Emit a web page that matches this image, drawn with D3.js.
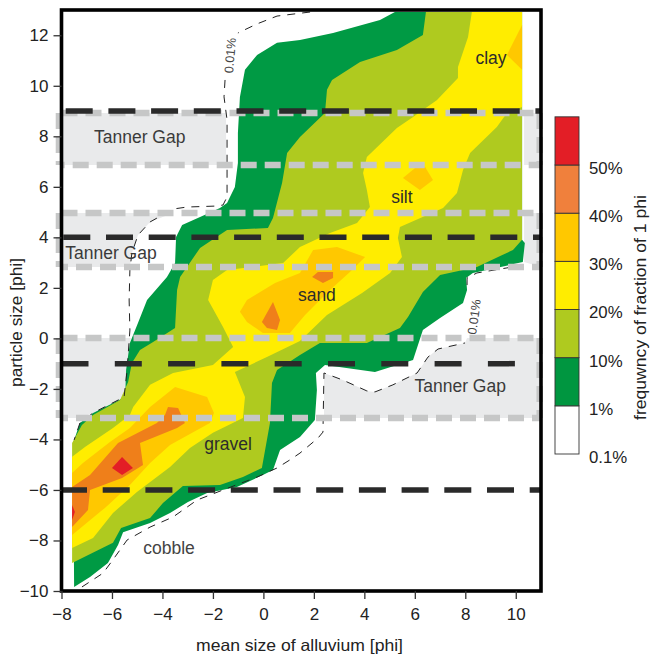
<!DOCTYPE html>
<html><head><meta charset="utf-8">
<style>html,body{margin:0;padding:0;background:#fff}svg{display:block}text{font-family:"Liberation Sans",Arial,sans-serif}</style>
<script src="https://cdn.jsdelivr.net/npm/d3@7"></script>
</head><body><svg id="c" width="652" height="657"></svg>
<script>
// contour boundaries in data units [mean size phi, particle size phi]
const band1 = [[5.21,12.92],[4.62,12.6],[2.76,12.09],[1.45,11.81],[0.54,11.7],[-0.25,11.22],[-0.73,10.63],[-0.93,9.56],[-1.01,8.13],[-1.01,6.94],[-1.13,5.99],[-1.44,5.36],[-1.72,5.16],[-2.31,4.89],[-3.22,4.49],[-3.46,4.01],[-3.5,2.98],[-3.82,2.43],[-4.61,1.52],[-4.97,0.61],[-5.29,-0.18],[-5.44,-1.25],[-5.48,-2.32],[-6.75,-2.95],[-7.27,-3.35],[-7.54,-4.14],[-7.5,-9.84],[-6.87,-9.45],[-6.16,-8.89],[-5.76,-8.18],[-5.56,-7.67],[-4.49,-7.31],[-3.7,-6.91],[-2.99,-6.48],[-2.23,-6.12],[-1.05,-5.88],[-0.02,-5.41],[0.38,-5.21],[0.66,-4.42],[1.45,-3.9],[2.04,-3.23],[2.12,-2.04],[2.08,-1.37],[2.44,-1.05],[4.42,-1.33],[5.93,-0.86],[6.32,0.33],[7,0.81],[7.91,1.4],[8.07,1.92],[8.03,2.39],[8.3,2.59],[10.28,3.02],[10.36,3.78],[10.25,3.9],[10.25,12.92]];
const band10 = [[6.44,12.92],[6.32,12.01],[5.29,11.42],[3.83,10.94],[2.72,10.23],[2.52,9.84],[2.44,8.92],[1.45,7.97],[0.94,7.34],[0.74,6.15],[0.38,4.77],[0.18,4.37],[-1.44,4.29],[-2.51,3.58],[-3.3,2.43],[-3.42,1.92],[-3.5,0.41],[-4.37,-0.14],[-4.89,-0.46],[-5.21,-0.97],[-5.36,-1.73],[-5.68,-2.44],[-6.75,-3.03],[-7.19,-3.43],[-7.58,-4.14],[-7.58,-8.89],[-5.96,-8.09],[-5.64,-7.51],[-4.49,-7.11],[-3.98,-6.52],[-3.19,-5.84],[-1.72,-5.8],[-0.81,-5.49],[-0.06,-5.13],[0.26,-3.35],[0.34,-1.77],[0.54,-1.25],[1.45,-0.66],[2.24,-0.18],[4.1,-0.18],[5.41,0.41],[5.73,0.85],[6.32,1.84],[7,2.51],[8.46,2.83],[9.89,3.5],[10.25,3.9],[10.25,12.92]];
const band20 = [[8.26,12.92],[8.11,11.93],[7.71,10.74],[7.71,10.31],[6.88,9.44],[5.93,8.76],[5.29,8.33],[4.1,7.18],[3.95,6.55],[4.1,5.87],[4.22,5.2],[3.71,4.57],[2.64,4.17],[1.45,3.62],[0.78,2.98],[-1.44,2.71],[-2,2.31],[-2.19,1.52],[-1.6,0.45],[-1.2,-0.34],[-2,-1.05],[-3.58,-1.37],[-4.49,-1.84],[-5.16,-2.72],[-5.29,-3.03],[-5.96,-3.55],[-7.07,-4.3],[-7.58,-4.69],[-7.58,-8.3],[-6.75,-7.9],[-5.96,-6.91],[-5.01,-6.08],[-3.7,-5.09],[-2.91,-4.34],[-2,-3.74],[-0.81,-3.15],[-0.73,-2.32],[-1.13,-1.33],[0.14,-0.74],[1.45,-0.1],[2.52,0.93],[3.91,1.8],[5.02,2.59],[5.49,3.22],[5.33,3.97],[5.41,4.41],[7.12,5.16],[7.67,5.76],[7.91,6.67],[8.19,7.34],[9.25,8.37],[9.65,8.92],[10.25,9.16],[10.25,12.92]];
const band30Clay = [[10.25,12.41],[9.65,11.22],[10.25,10.63]];
const band30Silt = [[6.01,6.75],[6.4,6.79],[6.72,6.27],[6.2,5.87],[5.53,6.35]];
const band30Sand = [[1.97,3.5],[2.92,3.62],[4.03,3.22],[3.43,2.63],[2.64,1.92],[1.65,0.93],[1.05,0.21],[-0.02,0.21],[-0.65,0.65],[-0.93,1.05],[-0.65,1.52],[0.46,2.19],[1.45,2.59]];
const band30Gravel = [[-3.5,-1.92],[-2.23,-2.32],[-1.96,-2.95],[-2.12,-3.35],[-3.7,-4.22],[-4.49,-4.93],[-5.29,-5.8],[-6.28,-6.71],[-7.58,-7.78],[-7.58,-5.33],[-7.15,-4.93],[-6.08,-4.1],[-5.29,-3.55],[-4.49,-2.72]];
const band40Gravel = [[-7.58,-5.88],[-6.87,-5.41],[-5.76,-4.14],[-4.22,-3.35],[-3.9,-3.03],[-3.78,-2.72],[-3.38,-2.76],[-3.11,-3.35],[-3.42,-3.55],[-4.89,-4.14],[-4.77,-5.01],[-5.6,-5.53],[-6.87,-6],[-6.95,-6.79],[-7.58,-7.47]];
const band40SandA = [[0.38,1.44],[0.66,0.73],[0.54,0.33],[0.14,0.41],[-0.06,0.65]];
const band40SandB = [[1.93,2.43],[2.16,2.63],[2.76,2.63],[2.76,2.39],[2.36,2.19]];
const band50A = [[-5.6,-4.7],[-5.17,-5.13],[-5.6,-5.41],[-6,-5.13]];
const band50B = [[-7.58,-6.6],[-7.47,-6.87],[-7.58,-7.19]];

const gapUpperLeft = [[-8,8.92],[-1.48,8.92],[-1.48,6.86],[-8,6.86]];
const gapUpperRight = [[10.33,8.92],[11,8.92],[11,6.86],[10.33,6.86]];
const gapMiddleLeft = [[-8,4.96],[-3.59,4.96],[-4.49,4.61],[-4.97,4.09],[-5.21,3.38],[-5.29,2.83],[-8,2.83]];
const gapMiddleRight = [[10.33,4.96],[11,4.96],[11,2.83],[10.33,3.02]];
const gapLowerLeft = [[-8,0.02],[-5.25,0.02],[-5.4,-1.25],[-5.52,-2.32],[-6.75,-2.95],[-7.27,-3.15],[-8,-3.15]];
const gapLowerRight = [[8.07,0.02],[7.99,-0.18],[6.92,-0.42],[6.52,-0.74],[6.09,-1.37],[5.13,-1.84],[4.42,-2.12],[4.1,-2.08],[3.15,-1.65],[2.4,-1.37],[2.4,-3.15],[11,-3.15],[11,0.02]];

const contourTop = [[1.85,12.92],[0.54,12.76],[-0.25,12.45],[-1.01,12.09]];
const contourLeft = [[-1.52,10.23],[-1.56,9.56],[-1.44,8.65],[-1.44,5.6],[-1.6,5.28],[-1.84,5.24],[-3.03,5.2],[-3.58,5.12],[-4.49,4.61],[-4.97,4.09],[-5.21,3.38],[-5.29,2.71],[-5.32,1.52],[-5.29,0.33],[-5.4,-1.25],[-5.52,-2.32],[-6.75,-2.95],[-7.27,-3.35],[-7.5,-4.02]];
const contourBottom = [[-7.19,-9.84],[-6.35,-9.29],[-5.88,-8.65],[-5.4,-7.98],[-4.49,-7.47],[-3.58,-7.07],[-2.63,-6.4],[-1.6,-6],[-0.25,-5.49],[0.54,-5.13],[1.05,-4.81],[1.45,-4.54],[2.16,-3.95],[2.36,-3.71],[2.4,-1.37],[3.15,-1.65],[4.1,-2.08],[4.42,-2.12],[5.13,-1.84],[6.09,-1.37],[6.52,-0.74],[6.92,-0.42],[7.99,-0.18]];
const contourRight = [[8.07,2.11],[8.07,2.39],[8.46,2.59],[9.65,2.79],[9.89,2.83]];

const blackLevels = [9,4,-1,-6];
const blackPeriods = [42.7,42.7,53.3,42.7];
const blackOffsets = [38.5,40.9,0,1.5];
const greyLevels = [8.92,6.86,4.96,2.83,0.02,-3.15];
const greyOffsets = [0,12.8,0,9.5,0,9.5];
const greySpans = [[8.92,6.86],[4.96,2.83],[0.02,-3.15]];

const xTicks = [-8,-6,-4,-2,0,2,4,6,8,10];
const yTicks = [-10,-8,-6,-4,-2,0,2,4,6,8,10,12];
const legendLabels = ["0.1%","1%","10%","20%","30%","40%","50%"];
const legendColors = ["#ffffff","#009640","#afca1f","#ffed00","#ffc800","#f0803c","#e31e26"];
const fieldLabels = ["clay","silt","sand","gravel","cobble"];
const fieldX = [9.02,5.49,2.12,-1.4,-3.74];
const fieldY = [10.86,5.36,1.48,-4.42,-8.53];
const gapLabels = ["Tanner Gap","Tanner Gap","Tanner Gap"];
const gapX = [-4.9,-6.04,7.8];
const gapY = [7.73,3.15,-2.12];

const svg = d3.select("#c");
const x = d3.scaleLinear().domain([-8,11]).range([61.5,541]);
const y = d3.scaleLinear().domain([-10,13]).range([591,10]);
const line = d3.line().x(d=>x(d[0])).y(d=>y(d[1]));
const closed = d3.line().x(d=>x(d[0])).y(d=>y(d[1])).curve(d3.curveLinearClosed);
const C = {g:"#009a44",o:"#afca1f",y:"#ffed00",a:"#ffc800",r:"#ef7f1a",d:"#e31e26",gap:"#e9eaeb"};

const plot = svg.append("g");
function fill(data,color){ plot.selectAll(null).data(data).enter().append("path").attr("d",closed).attr("fill",color); }
fill([gapUpperLeft,gapUpperRight,gapMiddleLeft,gapMiddleRight,gapLowerLeft,gapLowerRight],C.gap);
fill([band1],C.g); fill([band10],C.o); fill([band20],C.y);
fill([band30Clay,band30Silt,band30Sand,band30Gravel],C.a);
fill([band40Gravel,band40SandA,band40SandB],C.r);
fill([band50A,band50B],C.d);

// dashed 0.01 % contour
plot.selectAll(null).data([contourTop,contourLeft,contourBottom,contourRight]).enter().append("path")
  .attr("d",line).attr("fill","none").attr("stroke","#222").attr("stroke-width",1).attr("stroke-dasharray","8 7");

// grey bounds of the Tanner gaps
greyLevels.forEach((v,i)=>{
  plot.append("line").attr("x1",x(-8)).attr("x2",x(11)).attr("y1",y(v)).attr("y2",y(v))
    .attr("stroke","#c6c7c7").attr("stroke-width",6.5).attr("stroke-dasharray","16 8").attr("stroke-dashoffset",greyOffsets[i]);
});
greySpans.forEach(s=>{
  [-8.1,10.95].forEach(u=>{
    plot.append("line").attr("x1",x(u)).attr("x2",x(u)).attr("y1",y(s[0])).attr("y2",y(s[1]))
      .attr("stroke","#c6c7c7").attr("stroke-width",6.5).attr("stroke-dasharray","16 8");
  });
});
// black sediment boundaries
blackLevels.forEach((v,i)=>{
  plot.append("line").attr("x1",x(-8)).attr("x2",x(11)).attr("y1",y(v)).attr("y2",y(v))
    .attr("stroke","#2a2a2a").attr("stroke-width",5.5)
    .attr("stroke-dasharray",`27 ${blackPeriods[i]-27}`).attr("stroke-dashoffset",blackOffsets[i]);
});

// labels in the plot
const lab = svg.append("g").attr("fill","#2c2c2c").attr("font-size",17.5).attr("text-anchor","middle");
fieldLabels.forEach((t,i)=>lab.append("text").attr("x",x(fieldX[i])).attr("y",y(fieldY[i])).attr("fill",t==="cobble"?"#444":"#2c2c2c").text(t));
gapLabels.forEach((t,i)=>lab.append("text").attr("x",x(gapX[i])).attr("y",y(gapY[i])).attr("fill","#3a3a3a").text(t));
[[ -1.32,11.2,-85],[8.35,0.85,-82]].forEach(d=>{
  lab.append("text").attr("transform",`translate(${x(d[0])},${y(d[1])}) rotate(${d[2]})`)
    .attr("dy","0.35em").attr("font-size",12.5).attr("fill","#444").text("0.01%");
});

// frame and axes
svg.append("rect").attr("x",x(-8)).attr("y",y(13)).attr("width",x(11)-x(-8)).attr("height",y(-10)-y(13))
  .attr("fill","none").attr("stroke","#000").attr("stroke-width",3.6);
const ax = svg.append("g").attr("transform",`translate(0,${y(-10)})`)
  .call(d3.axisBottom(x).tickValues(xTicks).tickSize(8).tickPadding(9));
const ay = svg.append("g").attr("transform",`translate(${x(-8)},0)`)
  .call(d3.axisLeft(y).tickValues(yTicks).tickSize(8).tickPadding(5));
[ax,ay].forEach(a=>{
  a.select(".domain").remove();
  a.selectAll("line").attr("stroke","#333").attr("stroke-width",1.3);
  a.selectAll("text").attr("font-size",17).attr("fill","#222").style("font-family",'"Liberation Sans",Arial,sans-serif');
});
svg.append("text").attr("x",299.5).attr("y",651).attr("text-anchor","middle").attr("font-size",16.5).attr("fill","#222")
  .attr("textLength",207).attr("lengthAdjust","spacingAndGlyphs").text("mean size of alluvium [phi]");
svg.append("text").attr("transform","translate(22,322.5) rotate(-90)").attr("text-anchor","middle").attr("font-size",16).attr("fill","#222")
  .attr("textLength",129).attr("lengthAdjust","spacingAndGlyphs").text("particle size [phi]");

// legend
const ly = d3.scalePoint().domain(legendLabels).range([454,165]);
const step = ly.step();
const leg = svg.append("g");
leg.selectAll("rect").data(legendLabels).enter().append("rect")
  .attr("x",555).attr("width",24)
  .attr("y",d=>ly(d)-step).attr("height",step)
  .attr("fill",(d,i)=>legendColors[i]).attr("stroke","#333").attr("stroke-width",0.9);
leg.selectAll("text").data(legendLabels).enter().append("text")
  .attr("x",589).attr("y",d=>ly(d)+3).attr("dy","0.35em")
  .attr("font-size",16.8).attr("fill","#222").text(d=>d);
svg.append("text").attr("transform","translate(645.5,307.5) rotate(-90)").attr("text-anchor","middle").attr("font-size",16.5).attr("fill","#222")
  .attr("textLength",225).attr("lengthAdjust","spacingAndGlyphs").text("frequwncy of fraction of 1 phi");
</script></body></html>
